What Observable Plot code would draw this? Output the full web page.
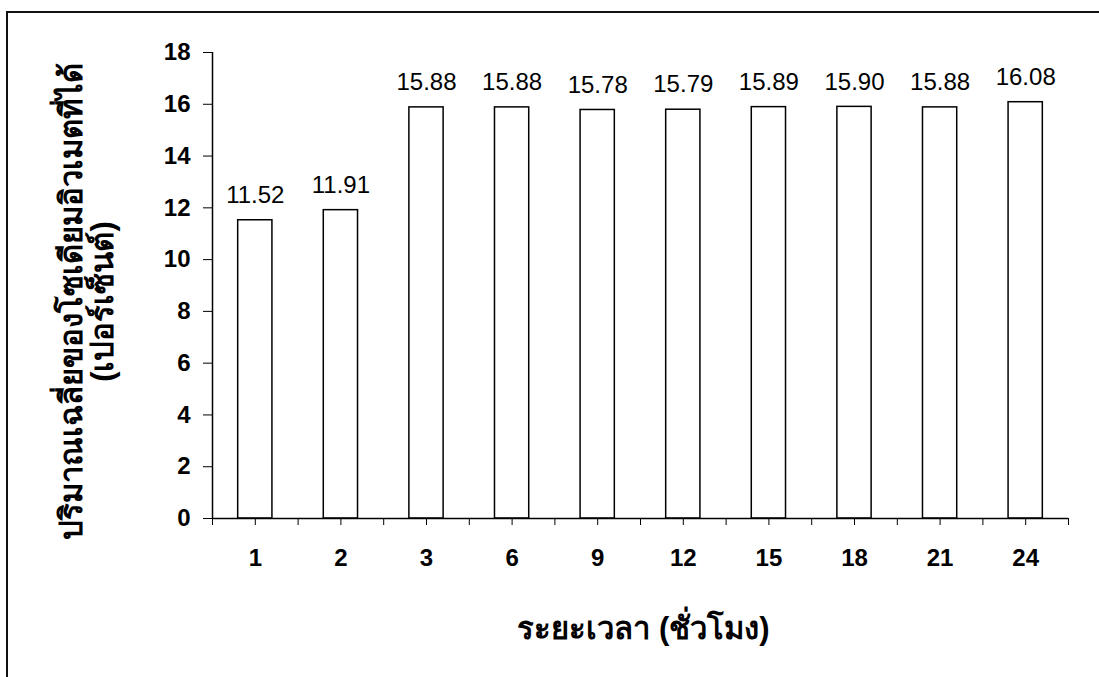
<!DOCTYPE html>
<html>
<head>
<meta charset="utf-8">
<script src="https://cdn.jsdelivr.net/npm/d3@7"></script>
<script src="https://cdn.jsdelivr.net/npm/@observablehq/plot@0.6"></script>
<style>
  html, body { margin: 0; padding: 0; background: #fff; overflow: hidden; }
  #chart { position: relative; width: 1099px; height: 677px; }
  #chart svg { position: absolute; left: 0; top: 0; }
  .outline {
    position: absolute; left: 6px; top: 11px; width: 1200px; height: 800px;
    border: 2px solid #111; box-sizing: border-box; pointer-events: none;
  }
</style>
</head>
<body>
<div id="chart"><div class="outline"></div></div>
<script>
// Extraction time (hours) and average yield (%)
const hours = ["1", "2", "3", "6", "9", "12", "15", "18", "21", "24"];
const yieldPct = [11.52, 11.91, 15.88, 15.88, 15.78, 15.79, 15.89, 15.90, 15.88, 16.08];
const yTicks = [0, 2, 4, 6, 8, 10, 12, 14, 16, 18];
const yTitle = "ปริมาณเฉลี่ยของโซเดียมอิวเมตที่ได้\n(เปอร์เซ็นต์)";
const xTitle = "ระยะเวลา (ชั่วโมง)";

const rows = hours.map((h, i) => ({hour: h, idx: i, value: yieldPct[i]}));

// Category slots laid out on a 0..n index axis so ticks can fall on both
// slot centres and slot boundaries.
const n = hours.length;
const xTicks = d3.range(0, n + 0.5, 0.5);

const svg = Plot.plot({
  width: 1099,
  height: 677,
  marginLeft: 212,
  marginRight: 31,
  marginTop: 52,
  marginBottom: 159,
  style: {
    fontFamily: "Arial, 'Liberation Sans', sans-serif",
    fontSize: "24px",
    fontWeight: "bold",
    color: "#000",
    background: "transparent"
  },
  x: {
    type: "linear",
    domain: [0, n],
    ticks: xTicks,
    tickFormat: d => Number.isInteger(d) ? "" : hours[Math.floor(d)],
    tickSize: 7,
    tickPadding: 23,
    label: null
  },
  y: {
    domain: [0, 18],
    ticks: yTicks,
    tickSize: 9,
    tickPadding: 13,
    label: null
  },
  marks: [
    Plot.rectY(rows, {
      x1: d => d.idx + 0.3,
      x2: d => d.idx + 0.7,
      y: "value",
      fill: "white",
      stroke: "black",
      strokeWidth: 1.5
    }),
    Plot.text(rows, {
      x: d => d.idx + 0.5,
      y: "value",
      text: d => d.value.toFixed(2),
      dy: -25,
      fontWeight: "normal",
      fontSize: 24,
      fill: "black"
    }),
    Plot.ruleX([0], {stroke: "black", strokeWidth: 1.5}),
    Plot.ruleY([0], {stroke: "black", strokeWidth: 1.5}),
    // Two-line vertical title for the value axis
    Plot.text([yTitle], {
      frameAnchor: "left",
      textAnchor: "middle",
      lineAnchor: "middle",
      rotate: -90,
      dx: -125,
      dy: 16,
      fontSize: 31,
      fontWeight: "bold",
      lineHeight: 1.0,
      fill: "black"
    }),
    Plot.text([xTitle], {
      frameAnchor: "bottom",
      textAnchor: "middle",
      lineAnchor: "middle",
      dx: 3,
      dy: 111,
      fontSize: 31,
      fontWeight: "bold",
      fill: "black"
    })
  ]
});

document.getElementById("chart").prepend(svg);
</script>
</body>
</html>
